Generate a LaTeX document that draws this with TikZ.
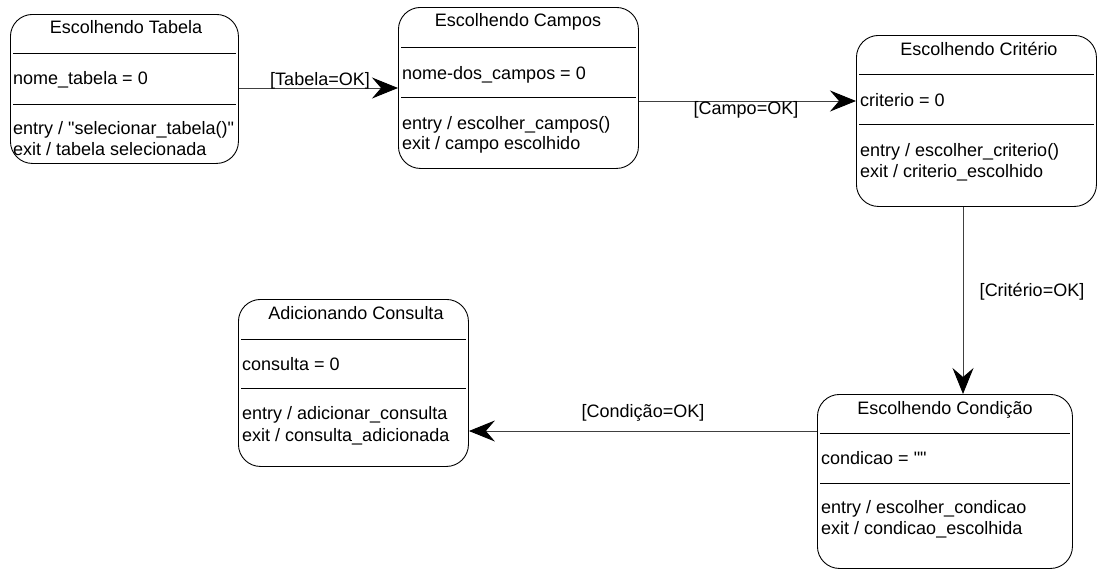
\documentclass[tikz,border=0pt]{standalone}
\usepackage{fontspec}
\setmainfont{Liberation Sans}[Ligatures=TeXOff]
\usetikzlibrary{arrows.meta}
\begin{document}
\begin{tikzpicture}[x=1pt,y=-1pt,
  statebox/.style={draw=black,line width=0.9pt,rounded corners=22pt,fill=white},
  sepline/.style={draw=black,line width=0.9pt},
  txt/.style={inner sep=0pt,anchor=base west,font=\fontsize{18}{21}\selectfont},
  ttl/.style={inner sep=0pt,anchor=base,font=\fontsize{18}{21}\selectfont},
  conn/.style={draw=black!75,line width=0.9pt,-{Stealth[length=26pt,width=21pt,inset=9pt,color=black]}},
  lbl/.style={inner sep=0pt,font=\fontsize{18}{21}\selectfont}]
\useasboundingbox (0,0) rectangle (1097,570);
% state boxes
\node[statebox,anchor=north west,minimum width=228pt,minimum height=149pt,inner sep=0pt] (t) at (10,14) {};
\node[statebox,anchor=north west,minimum width=240pt,minimum height=161pt,inner sep=0pt] (c) at (398,7) {};
\node[statebox,anchor=north west,minimum width=240pt,minimum height=171pt,inner sep=0pt] (r) at (856,35) {};
\node[statebox,anchor=north west,minimum width=230pt,minimum height=167pt,inner sep=0pt] (a) at (238,299) {};
\node[statebox,anchor=north west,minimum width=255pt,minimum height=174pt,inner sep=0pt] (d) at (817,394) {};
% Escolhendo Tabela
\node[ttl] (t1) at (126,33) {Escolhendo Tabela};
\draw[sepline] (13,53) -- (236,53);
\node[txt] (t2) at (13,84) {nome\_tabela = 0};
\draw[sepline] (13,104) -- (236,104);
\node[txt] (t3) at (13,134) {entry / "selecionar\_tabela()"};
\node[txt] (t4) at (13,155) {exit / tabela selecionada};
% Escolhendo Campos
\node[ttl] (c1) at (518,27) {Escolhendo Campos};
\draw[sepline] (401,47) -- (636,47);
\node[txt] (c2) at (402,79) {nome-dos\_campos = 0};
\draw[sepline] (401,97) -- (636,97);
\node[txt] (c3) at (402,129) {entry / escolher\_campos()};
\node[txt] (c4) at (402,149) {exit / campo escolhido};
% Escolhendo Criterio
\node[ttl] (r1) at (979,55) {Escolhendo Critério};
\draw[sepline] (859,74) -- (1094,74);
\node[txt] (r2) at (860,106) {criterio = 0};
\draw[sepline] (859,124) -- (1094,124);
\node[txt] (r3) at (860,156) {entry / escolher\_criterio()};
\node[txt] (r4) at (860,177) {exit / criterio\_escolhido};
% Adicionando Consulta
\node[ttl] (a1) at (356,319) {Adicionando Consulta};
\draw[sepline] (241,339) -- (466,339);
\node[txt] (a2) at (242,370) {consulta = 0};
\draw[sepline] (241,388) -- (466,388);
\node[txt] (a3) at (242,419) {entry / adicionar\_consulta};
\node[txt] (a4) at (242,441) {exit / consulta\_adicionada};
% Escolhendo Condicao
\node[ttl] (d1) at (945,414) {Escolhendo Condição};
\draw[sepline] (820,433) -- (1070,433);
\node[txt] (d2) at (821,464) {condicao = ""};
\draw[sepline] (820,483) -- (1070,483);
\node[txt] (d3) at (821,513) {entry / escolher\_condicao};
\node[txt] (d4) at (821,534) {exit / condicao\_escolhida};
% connectors
\coordinate (y1) at (0,88);
\coordinate (y2) at (0,101);
\coordinate (x3) at (963,0);
\coordinate (y4) at (0,431);
\draw[conn] (t.east |- y1) -- (c.west |- y1);
\draw[conn] (c.east |- y2) -- (r.west |- y2);
\draw[conn] (r.south -| x3) -- (d.north -| x3);
\draw[conn] (d.west |- y4) -- (a.east |- y4);
% labels
\node[lbl] (l1) at (320,81) {[Tabela=OK]};
\node[lbl] (l2) at (746,110) {[Campo=OK]};
\node[lbl] (l3) at (1032,292) {[Critério=OK]};
\node[lbl] (l4) at (643,413) {[Condição=OK]};
\end{tikzpicture}
\end{document}
